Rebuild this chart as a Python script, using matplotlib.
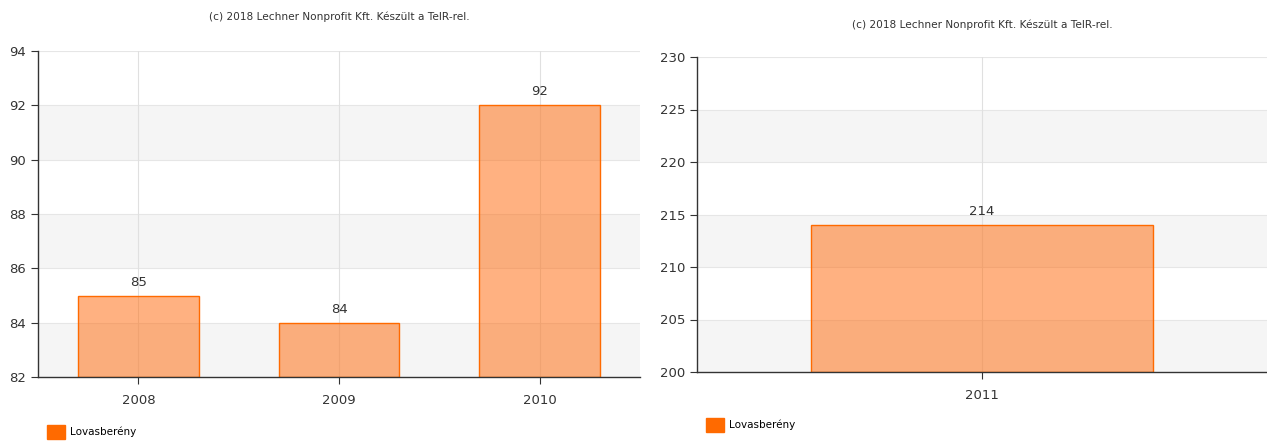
import matplotlib.pyplot as plt
from matplotlib.patches import Patch

# adatok
evek_bal = ["2008", "2009", "2010"]
ertekek_bal = [85, 84, 92]
yticks_bal = [82, 84, 86, 88, 90, 92, 94]

evek_jobb = ["2011"]
ertekek_jobb = [214]
yticks_jobb = [200, 205, 210, 215, 220, 225, 230]

cim = "(c) 2018 Lechner Nonprofit Kft. Készült a TeIR-rel."
telepules = "Lovasberény"

W, H = 1267, 441
plt.rcParams['font.family'] = ['DejaVu Sans']
fig = plt.figure(figsize=(W / 100, H / 100), dpi=100)


def panel(rect, evek, ertekek, yticks, cim_y, legend_y):
    x0, y_top, x1, y_bot = rect
    ax = fig.add_axes([x0 / W, 1 - y_bot / H, (x1 - x0) / W, (y_bot - y_top) / H])
    xs = list(range(len(evek)))

    # sávos háttér
    for i in range(len(yticks) - 1):
        if i % 2 == 0:
            ax.axhspan(yticks[i], yticks[i + 1], color='#f5f5f5', zorder=0, lw=0)
    for t in yticks:
        ax.axhline(t, color='#e6e6e6', lw=0.8, zorder=0.5)
    for x in xs:
        ax.axvline(x, color='#e0e0e0', lw=0.8, zorder=0.5)

    bars = ax.bar(xs, [v - yticks[0] for v in ertekek], bottom=yticks[0], width=0.6,
                  color=(1, 0.42, 0.05, 0.52), edgecolor='#ff6a00', linewidth=1, zorder=2)
    for b, v in zip(bars, ertekek):
        ax.annotate(str(v), (b.get_x() + b.get_width() / 2, v), xytext=(0, 5),
                    textcoords='offset points', ha='center', va='bottom',
                    fontsize=9.5, color='#333333')

    ax.set_xlim(-0.5, len(evek) - 0.5)
    ax.set_ylim(yticks[0], yticks[-1])
    ax.set_yticks(yticks)
    ax.set_xticks(xs)
    ax.set_xticklabels(evek)
    ax.tick_params(axis='both', labelsize=9.5, colors='#333333', length=5, width=0.8)
    ax.tick_params(axis='x', pad=7.5)
    for s in ['top', 'right']:
        ax.spines[s].set_visible(False)
    for s in ['left', 'bottom']:
        ax.spines[s].set_color('#333333')
        ax.spines[s].set_linewidth(1)

    fig.text((x0 + x1) / 2 / W, 1 - cim_y / H, cim, ha='center', va='center',
             fontsize=7.6, color='#333333')
    fig.legend(handles=[Patch(color='#ff6a00')], labels=[telepules],
               loc='center left', bbox_to_anchor=((x0 + 9) / W, 1 - legend_y / H),
               frameon=False, fontsize=7.5, handlelength=1.7, handleheight=1.7,
               handletextpad=0.5, borderpad=0, borderaxespad=0)
    return ax


panel((38, 51, 640, 377), evek_bal, ertekek_bal, yticks_bal, 17, 432)
panel((697, 57, W, 372), evek_jobb, ertekek_jobb, yticks_jobb, 25, 425)

fig.savefig("out.png", dpi=100, facecolor='white')
